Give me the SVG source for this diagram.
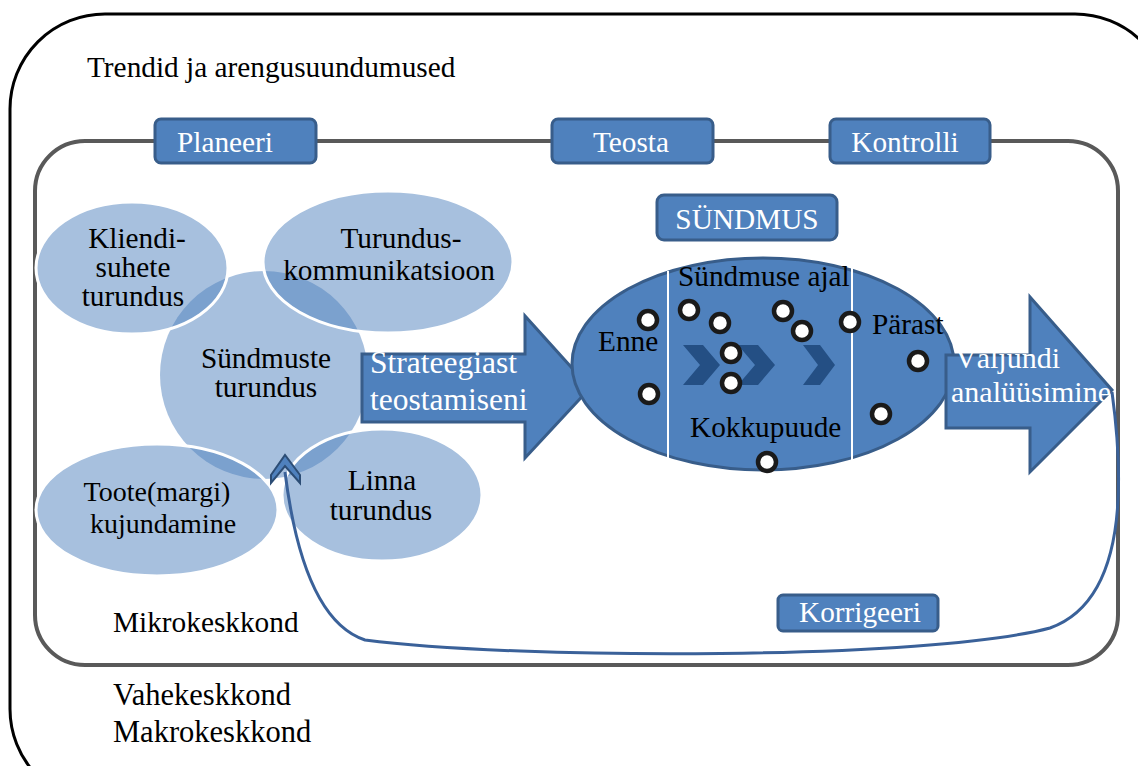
<svg xmlns="http://www.w3.org/2000/svg" width="1138" height="766" viewBox="0 0 1138 766">
<style>
text{font-family:"Liberation Serif","Times New Roman",serif;font-size:29.3px;fill:#000}
.w{fill:#fff}
.m{text-anchor:middle}
.box{fill:#4F81BD;stroke:#385D8A;stroke-width:3}
.pale{fill:#4F81BD;fill-opacity:0.5;stroke:#fff;stroke-width:3}
.dot{fill:#fff;stroke:#1a1a1a;stroke-width:4.5}
.chev{fill:#1F497D;fill-opacity:0.9}
</style>
<rect id="makro" x="10" y="14" width="1160" height="790" rx="95" fill="#fff" stroke="#000" stroke-width="3"/>
<text x="87" y="77">Trendid ja arengusuundumused</text>
<rect id="mikro" x="35" y="141" width="1083" height="524" rx="50" fill="none" stroke="#595959" stroke-width="4"/>
<text x="113" y="632">Mikrokeskkond</text>
<text x="113" y="705" style="font-size:30.5px">Vahekeskkond</text>
<text x="113" y="742" style="font-size:30.5px">Makrokeskkond</text>

<g id="planeeri"><rect class="box" x="155" y="119" width="161" height="44" rx="6"/><text class="w m" x="225" y="152">Planeeri</text></g>
<g id="teosta"><rect class="box" x="552" y="119" width="161" height="44" rx="6"/><text class="w m" x="631" y="152">Teosta</text></g>
<g id="kontrolli"><rect class="box" x="830" y="119" width="160" height="44" rx="6"/><text class="w m" x="905" y="152">Kontrolli</text></g>

<g id="syndmuste-turundus"><ellipse cx="264" cy="375" rx="104" ry="104" fill="#4F81BD" fill-opacity="0.5"/><text class="m" x="266" y="368">Sündmuste</text><text class="m" x="266" y="397">turundus</text></g>
<g id="kliendisuhete"><ellipse class="pale" cx="132" cy="268" rx="96" ry="66"/><text class="m" x="137" y="248">Kliendi-</text><text class="m" x="133" y="277">suhete</text><text class="m" x="133" y="306">turundus</text></g>
<g id="turunduskommunikatsioon"><ellipse class="pale" cx="388" cy="262" rx="125" ry="71"/><text class="m" x="401" y="248">Turundus-</text><text class="m" x="389" y="280">kommunikatsioon</text></g>
<g id="toote"><ellipse class="pale" cx="157" cy="510" rx="121" ry="66"/><text class="m" x="157" y="501" style="font-size:28px">Toote(margi)</text><text class="m" x="163" y="533" style="font-size:28px">kujundamine</text></g>
<g id="linna"><ellipse class="pale" cx="382" cy="495" rx="100" ry="66"/><text class="m" x="382" y="490">Linna</text><text class="m" x="381" y="520">turundus</text></g>

<g id="strateegiast"><path class="box" d="M362 354 H525 V316 L590 388 L525 458 V422 H362 Z"/><text class="w" x="370" y="373" style="font-size:31.5px">Strateegiast</text><text class="w" x="370" y="410" style="font-size:31.5px">teostamiseni</text></g>

<g id="syndmus">
<ellipse class="box" cx="763" cy="364" rx="191" ry="106"/>
<line x1="668" y1="271" x2="668" y2="466" stroke="#fff" stroke-width="2"/>
<line x1="852" y1="267" x2="852" y2="466" stroke="#fff" stroke-width="2"/>
<path class="chev" d="M683 345 H703 L720 365 L703 385 H683 L700 365 Z"/>
<path class="chev" d="M738 345 H758 L775 365 L758 385 H738 L755 365 Z"/>
<path class="chev" d="M803 345 H820 L835 365 L820 385 H803 L818 365 Z"/>
<text x="598" y="351">Enne</text>
<text x="678" y="286">Sündmuse ajal</text>
<text x="872" y="334">Pärast</text>
<text x="690" y="437">Kokkupuude</text>
<circle class="dot" cx="648" cy="320" r="9"/>
<circle class="dot" cx="649" cy="394" r="9"/>
<circle class="dot" cx="689" cy="310" r="9"/>
<circle class="dot" cx="720" cy="323" r="9"/>
<circle class="dot" cx="731" cy="353" r="9"/>
<circle class="dot" cx="731" cy="383" r="9"/>
<circle class="dot" cx="783" cy="311" r="9"/>
<circle class="dot" cx="802" cy="331" r="9"/>
<circle class="dot" cx="850" cy="322" r="9"/>
<circle class="dot" cx="918" cy="361" r="9"/>
<circle class="dot" cx="881" cy="414" r="9"/>
<circle class="dot" cx="767" cy="462" r="9"/>
</g>
<g id="syndmus-label"><rect class="box" x="657" y="195" width="180" height="45" rx="7"/><text class="w m" x="747" y="229">SÜNDMUS</text></g>

<g id="valjundi"><path class="box" d="M946 355 H1030 V297 L1112 390 L1030 472 V428 H946 Z"/><text class="w" x="955" y="368" style="font-size:30px">Väljundi</text><text class="w" x="951" y="402" style="font-size:30px">analüüsimine</text></g>

<g id="korrigeeri"><rect class="box" x="778" y="595" width="160" height="36" rx="5"/><text class="w m" x="860" y="622">Korrigeeri</text></g>

<g id="connectors">
<path d="M1112 392 C1124 480 1128 600 1050 628 C930 660 520 660 365 640 C320 625 296 560 285 472" fill="none" stroke="#3A6199" stroke-width="3"/>
<path d="M271 475 L285 455 L300 475 L300 483 L285 466 L271 483 Z" fill="#4F81BD" stroke="#2C4D75" stroke-width="2"/>
</g>
</svg>
